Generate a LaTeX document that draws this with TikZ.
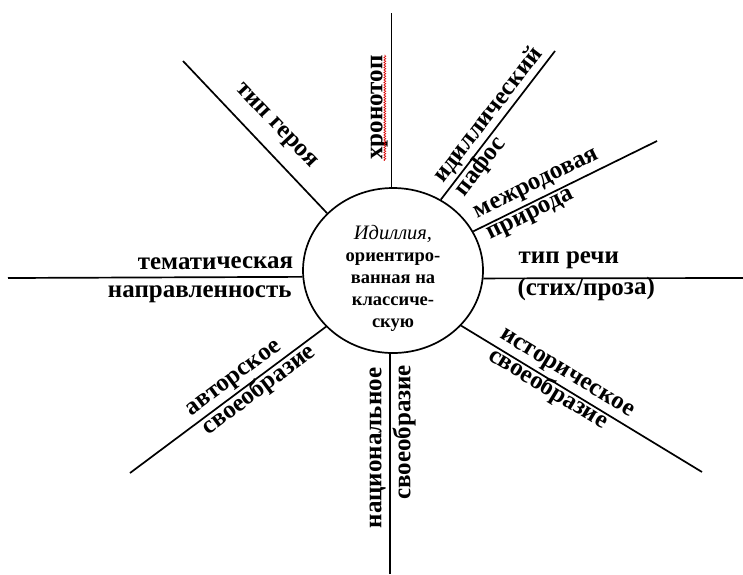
\documentclass[tikz,border=0pt]{standalone}
\usepackage{fontspec}
\setmainfont{LiberationSerif}[Extension=.ttf, UprightFont=*-Regular, BoldFont=*-Bold,
  ItalicFont=*-Italic, BoldItalicFont=*-BoldItalic]
\usetikzlibrary{shapes.geometric,decorations.pathmorphing}

\begin{document}
\begin{tikzpicture}[x=1pt, y=-1pt, line width=1.7pt,
    lbl/.style={sloped, anchor=mid, inner sep=0pt, font=\bfseries\fontsize{25}{28}\selectfont},
    hub/.style={draw, ellipse, minimum width=180pt, minimum height=165pt, inner sep=0pt},
    hubtext/.style={align=center, inner sep=0pt, font=\bfseries\fontsize{18.5}{22}\selectfont},
    spellmark/.style={red!85!black, line width=.6pt, decorate,
      decoration={zigzag, segment length=2.5pt, amplitude=1pt}}]
  \useasboundingbox (0,0) rectangle (743,574);

  % the circle in the middle
  \node[hub] (idyll) at (393,270.5) {};
  \node[hubtext] (idyll-text) at (393,278)
    {{\mdseries\itshape\fontsize{20.5}{22}\selectfont Идиллия,}\\ориентиро-\\ванная на\\классиче-\\скую};

  % free ends of the spokes
  \coordinate (top) at (idyll.91.7 |- 0,13);
  \coordinate (bottom) at (idyll.268.3 |- 0,574);
  \coordinate (left) at (8,278);
  \coordinate (right) at (743,278);
  \coordinate (hero) at (183,61);
  \coordinate (pathos) at (555,51);
  \coordinate (genre) at (657,141);
  \coordinate (author) at (130,473);
  \coordinate (history) at (702,472);

  % spokes with their labels
  \draw (idyll.91.7) -- node[lbl, pos=.457, yshift=11.5pt] (chrono) {хронотоп} (top);
  \draw[spellmark] ([xshift=2.5pt]chrono.base west) -- ([xshift=2.5pt]chrono.base east);

  \draw (hero) -- node[lbl, pos=.53, yshift=21pt] (hero-a) {тип героя} (idyll.139.8);

  \draw (idyll.56.7) -- node[lbl, pos=.512, yshift=10pt] (pathos-a) {идиллический}
    node[lbl, pos=.268, yshift=-15pt] (pathos-b) {пафос} (pathos);

  \draw (idyll.26) -- node[lbl, pos=.381, yshift=12pt] (genre-a) {межродовая}
    node[lbl, pos=.288, yshift=-13pt] (genre-b) {природа} (genre);

  \draw (idyll.355.2) -- node[lbl, pos=.329, yshift=17pt] (speech-a) {тип речи}
    node[lbl, pos=.396, yshift=-14.5pt] (speech-b) {(стих/проза)} (right);

  \draw (left) -- node[lbl, pos=.705, yshift=10.5pt] (theme-a) {тематическая}
    node[lbl, pos=.651, yshift=-18pt] (theme-b) {направленность} (idyll.184.8);

  \draw (author) -- node[lbl, pos=.572, yshift=11pt] (author-a) {авторское}
    node[lbl, pos=.625, yshift=-14.5pt] (author-b) {своеобразие} (idyll.220.2);

  \draw (bottom) -- node[lbl, pos=.572, yshift=11pt] (nation-a) {национальное}
    node[lbl, pos=.643, yshift=-18pt] (nation-b) {своеобразие} (idyll.268.3);

  \draw (idyll.321.1) -- node[lbl, pos=.408, yshift=11.8pt] (history-a) {историческое}
    node[lbl, pos=.38, yshift=-12.8pt] (history-b) {своеобразие} (history);
\end{tikzpicture}
\end{document}
